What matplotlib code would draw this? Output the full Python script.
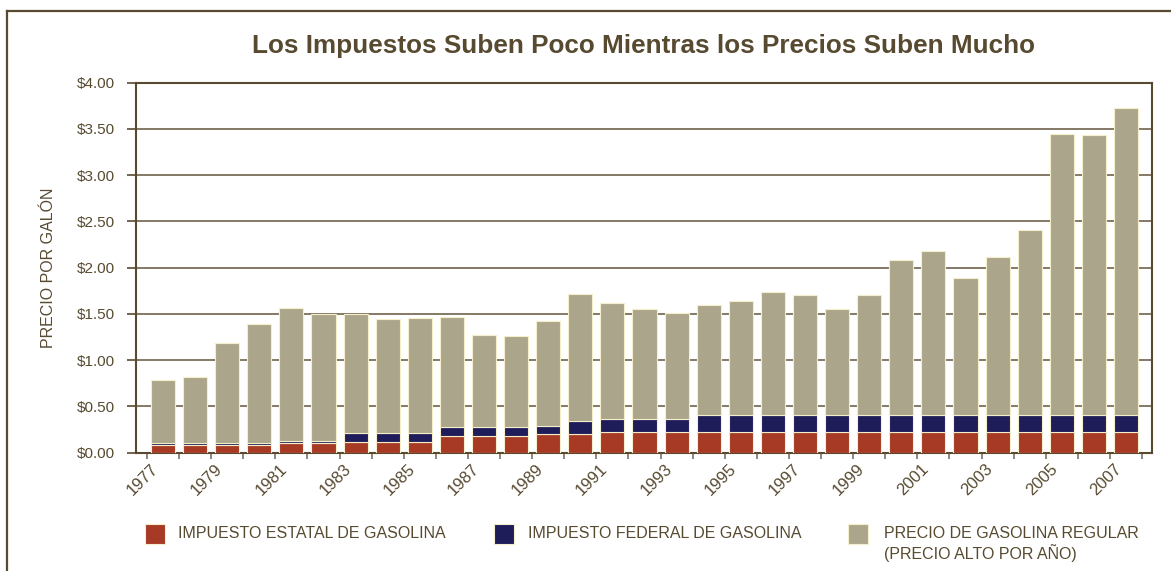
import numpy as np
import matplotlib.pyplot as plt
from matplotlib import font_manager
from matplotlib.patches import Rectangle
from matplotlib.lines import Line2D
from matplotlib.transforms import ScaledTranslation

# Precio por galón (dólares), 1977-2007
years = [1977, 1978, 1979, 1980, 1981, 1982, 1983, 1984, 1985, 1986,
         1987, 1988, 1989, 1990, 1991, 1992, 1993, 1994, 1995, 1996,
         1997, 1998, 1999, 2000, 2001, 2002, 2003, 2004, 2005, 2006, 2007]
state_tax = [0.08, 0.08, 0.08, 0.08, 0.10, 0.10, 0.12, 0.12, 0.12, 0.18,
             0.18, 0.18, 0.20, 0.20, 0.22, 0.22, 0.22, 0.22, 0.22, 0.22,
             0.22, 0.22, 0.22, 0.22, 0.22, 0.22, 0.22, 0.22, 0.22, 0.22, 0.22]
federal_tax = [0.03, 0.03, 0.03, 0.03, 0.03, 0.03, 0.09, 0.09, 0.09, 0.094,
               0.094, 0.094, 0.094, 0.141, 0.141, 0.141, 0.141, 0.184, 0.184, 0.184,
               0.184, 0.184, 0.184, 0.184, 0.184, 0.184, 0.184, 0.184, 0.184, 0.184, 0.184]
price = [0.79, 0.82, 1.19, 1.39, 1.56, 1.50, 1.50, 1.45, 1.46, 1.47,
         1.27, 1.26, 1.42, 1.72, 1.62, 1.55, 1.51, 1.60, 1.64, 1.74,
         1.70, 1.55, 1.71, 2.08, 2.18, 1.89, 2.12, 2.41, 3.45, 3.44, 3.73]
y_ticks = [0.0, 0.5, 1.0, 1.5, 2.0, 2.5, 3.0, 3.5, 4.0]

legend_labels = ['IMPUESTO ESTATAL DE GASOLINA',
                 'IMPUESTO FEDERAL DE GASOLINA',
                 'PRECIO DE GASOLINA REGULAR\n(PRECIO ALTO POR AÑO)']

brown = '#574a30'
grid_col = '#6e624c'
tick_gray = '#7d7260'
red = '#a63a24'
navy = '#1f1c5a'
khaki = '#aba58b'
cream = '#f4eecb'

available = {f.name for f in font_manager.fontManager.ttflist}
title_font = 'Liberation Sans Narrow' if 'Liberation Sans Narrow' in available else 'Liberation Sans'
plt.rcParams['font.family'] = ['Liberation Sans', 'DejaVu Sans']

W, H = 1171, 571
fig = plt.figure(figsize=(W / 100, H / 100), dpi=100)
ax = fig.add_axes([136 / W, 1 - 452.7 / H, (1152 - 136) / W, (452.7 - 82.7) / H])

x = np.arange(len(years))
state = np.array(state_tax)
federal = np.array(federal_tax)
rest = np.array(price) - state - federal

bar_kw = dict(width=0.75, edgecolor=cream, linewidth=0.8, zorder=3)
ax.bar(x, state, color=red, **bar_kw)
ax.bar(x, federal, bottom=state, color=navy, **bar_kw)
ax.bar(x, rest, bottom=state + federal, color=khaki, **bar_kw)

ax.set_xlim(-0.84, 30.81)
ax.set_ylim(0, 4)
ax.set_yticks(y_ticks, [f'${v:.2f}' for v in y_ticks])
ax.yaxis.grid(True, color=grid_col, linewidth=1.2)
ax.set_axisbelow(True)

for s in ax.spines.values():
    s.set_color(brown)
    s.set_linewidth(1.5)

ax.tick_params(axis='y', length=6.5, width=1.2, color=brown, labelsize=11,
               labelcolor=brown, pad=9)

ax.set_xticks(x[::2], [str(y) for y in years[::2]])
ax.set_xticks(np.arange(-0.5, len(years), 1.0), minor=True)
ax.tick_params(axis='x', which='major', length=0, pad=10, labelsize=12,
               labelcolor=brown)
ax.tick_params(axis='x', which='minor', length=4.5, width=1.2, color=tick_gray)
shift = ScaledTranslation(-7 / 100, 0, fig.dpi_scale_trans)
for lbl in ax.get_xticklabels():
    lbl.set_rotation(45)
    lbl.set_ha('right')
    lbl.set_va('center')
    lbl.set_rotation_mode('anchor')
    lbl.set_transform(lbl.get_transform() + shift)

ax.set_ylabel('PRECIO POR GALÓN', fontsize=11.5, color=brown, labelpad=15)

fig.text(644 / W, 1 - 53 / H, 'Los Impuestos Suben Poco Mientras los Precios Suben Mucho',
         ha='center', va='baseline', fontsize=18.8, fontweight='bold',
         color=brown, family=[title_font, 'DejaVu Sans'])

# legend drawn by hand
for sq_x, txt_x, col, label in zip([145, 494, 848], [178, 528, 884],
                                   [red, navy, khaki], legend_labels):
    fig.add_artist(Rectangle((sq_x / W, 1 - 544 / H), 20 / W, 20 / H,
                             facecolor=col, edgecolor=cream, linewidth=0.8,
                             transform=fig.transFigure))
    fig.text(txt_x / W, 1 - 526 / H, label, ha='left', va='top',
             fontsize=11.5, color=brown, linespacing=1.2)

# outer frame
fig.add_artist(Line2D([7 / W, 7 / W], [0, 1 - 11 / H], color=brown, linewidth=1.6,
                      transform=fig.transFigure))
fig.add_artist(Line2D([7 / W, 1], [1 - 11 / H, 1 - 11 / H], color=brown, linewidth=1.6,
                      transform=fig.transFigure))

fig.savefig('out.png', dpi=100)
